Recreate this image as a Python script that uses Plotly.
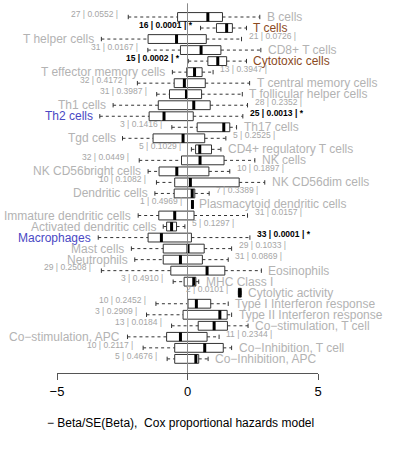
import plotly.graph_objects as go

names = ["B cells", "T cells", "T helper cells", "CD8+ T cells", "Cytotoxic cells",
         "T effector memory cells", "T central memory cells", "T follicular helper cells",
         "Th1 cells", "Th2 cells", "Th17 cells", "Tgd cells", "CD4+ regulatory T cells",
         "NK cells", "NK CD56bright cells", "NK CD56dim cells", "Dendritic cells",
         "Plasmacytoid dendritic cells", "Immature dendritic cells", "Activated dendritic cells",
         "Macrophages", "Mast cells", "Neutrophils", "Eosinophils", "MHC Class I",
         "Cytolytic activity", "Type I Interferon response", "Type II Interferon response",
         "Co\u2212stimulation, T cell", "Co\u2212stimulation, APC", "Co\u2212Inhibition, T cell",
         "Co\u2212Inhibition, APC"]

lower = [-2.27, 0.50, -3.30, -1.52, 0.03, -0.58, -1.92, -1.18, -2.85, -3.36, -0.60, -2.49, 0.15,
         -1.85, -1.51, -1.19, -1.25, 0.19, -1.89, -0.93, -3.42, -2.15, -2.02, -3.30, -0.55,
         1.95, -1.21, -1.57, -0.61, -2.30, -1.70, -0.78]
q1 = [-0.38, 1.11, -1.51, -0.27, 0.78, -0.03, -0.51, -0.69, -1.12, -1.47, 0.37, -1.32, 0.31,
      -0.23, -1.09, -0.49, -0.51, 0.19, -1.10, -0.80, -1.51, -0.93, -0.93, -0.64, -0.13,
      1.95, 0.02, -0.17, 0.41, -0.80, -0.49, -0.49]
median = [0.78, 1.50, -0.42, 0.52, 1.16, 0.27, -0.12, -0.04, 0.24, -0.90, 1.39, -0.17, 0.47,
          0.48, -0.41, 0.11, 0.18, 0.19, -0.49, -0.61, -1.00, 0.02, -0.27, 0.75, 0.24,
          2.00, 0.34, 1.24, 1.02, -0.27, 0.66, 0.32]
q3 = [1.34, 1.72, 0.72, 1.28, 1.50, 0.56, 0.68, 0.54, 0.87, 0.22, 1.62, 0.66, 0.92,
      1.40, 0.82, 1.98, 0.28, 0.19, 0.25, -0.42, 0.15, 0.64, 0.57, 1.43, 0.32,
      2.06, 0.89, 1.52, 1.53, 0.75, 1.37, 0.43]
upper = [2.77, 2.26, 2.07, 2.81, 2.26, 0.98, 2.38, 2.10, 2.30, 2.12, 1.88, 1.47, 1.28,
         2.58, 1.62, 2.96, 0.83, 0.19, 2.30, -0.10, 2.39, 1.69, 1.56, 2.83, 0.43,
         2.06, 1.56, 1.69, 2.32, 1.21, 1.69, 0.79]

counts = [27, 16, 21, 31, 15, 13, 32, 31, 28, 25, 3, 5, 5, 32, 10, 10, 7, 1, 31, 5, 33, 29,
          31, 29, 3, 2, 10, 3, 13, 11, 10, 5]
pvals = ["0.0552", "0.0001", "0.0726", "0.0167", "0.0002", "0.3947", "0.4172", "0.3987",
         "0.2352", "0.0013", "0.1416", "0.2525", "0.1029", "0.0449", "0.1897", "0.1082",
         "0.3389", "0.4969", "0.0157", "0.1297", "0.0001", "0.1033", "0.0869", "0.2508",
         "0.4910", "0.0101", "0.2452", "0.2909", "0.0184", "0.2344", "0.2117", "0.4676"]
name_side = ["R", "R", "L", "R", "R", "L", "R", "R", "L", "L", "R", "L", "R", "R", "L", "R",
             "L", "R", "L", "L", "L", "L", "L", "R", "R", "R", "R", "R", "R", "L", "R", "R"]
name_colors = {"T cells": "#8B4A1E", "Cytotoxic cells": "#8B4A1E",
               "Th2 cells": "#4A48C4", "Macrophages": "#4A48C4"}

xticks = [-5, 0, 5]
xlabel = "\u2212 Beta/SE(Beta),\u00a0 Cox proportional hazards model"

rows = list(range(1, len(names) + 1))
FONT = "Liberation Sans, Arial, sans-serif"
BOXH = 0.4
STAP = 0.2

wx, wy, sx, sy, bx, by, mx, my = [], [], [], [], [], [], [], []
for r, lo, a, m, b, hi in zip(rows, lower, q1, median, q3, upper):
    wx += [lo, a, None, b, hi, None]
    wy += [r, r, None, r, r, None]
    sx += [lo, lo, None, hi, hi, None]
    sy += [r - STAP, r + STAP, None, r - STAP, r + STAP, None]
    bx += [a, b, b, a, a, None]
    by += [r - BOXH, r - BOXH, r + BOXH, r + BOXH, r - BOXH, None]
    mx += [m, m, None]
    my += [r - BOXH, r + BOXH, None]

fig = go.Figure()
fig.add_trace(go.Scatter(x=wx, y=wy, mode="lines", line=dict(color="#333", width=1, dash="3px,3px"),
                         hoverinfo="skip", showlegend=False))
fig.add_trace(go.Scatter(x=sx, y=sy, mode="lines", line=dict(color="#333", width=1),
                         hoverinfo="skip", showlegend=False))
fig.add_trace(go.Scatter(x=bx, y=by, mode="lines", line=dict(color="#333", width=1),
                         hoverinfo="skip", showlegend=False))
fig.add_trace(go.Scatter(x=mx, y=my, mode="lines", line=dict(color="#000", width=3),
                         hoverinfo="skip", showlegend=False))

ann = []
for r, nm, side, lo, hi, n, p in zip(rows, names, name_side, lower, upper, counts, pvals):
    sig = float(p) < 0.005
    txt = f"{n} | {p} |" + (" *" if sig else "")
    if sig:
        afont = dict(family=FONT, size=8.5, color="#000")
        txt = "<b>" + txt + "</b>"
    else:
        afont = dict(family=FONT, size=8.5, color="#a6a6a6")
    nfont = dict(family=FONT, size=12, color=name_colors.get(nm, "#b3b3b3"))
    if side == "L":
        ann.append(dict(x=lo, y=r, xref="x", yref="y", text=nm, showarrow=False,
                        xanchor="right", yanchor="middle", xshift=-5, font=nfont))
        ann.append(dict(x=hi, y=r - 0.3, xref="x", yref="y", text=txt, showarrow=False,
                        xanchor="left", yanchor="middle", xshift=5, font=afont))
    else:
        ann.append(dict(x=hi, y=r, xref="x", yref="y", text=nm, showarrow=False,
                        xanchor="left", yanchor="middle", xshift=5, font=nfont))
        ann.append(dict(x=lo, y=r - 0.3, xref="x", yref="y", text=txt, showarrow=False,
                        xanchor="right", yanchor="middle", xshift=-6 if sig else -8, font=afont))

ann.append(dict(x=0.475, y=-0.134, xref="paper", yref="paper", text=xlabel, showarrow=False,
                xanchor="center", yanchor="middle", font=dict(family=FONT, size=12, color="#000")))

fig.update_layout(
    width=398, height=459,
    margin=dict(l=57, r=80, t=0, b=86),
    paper_bgcolor="white", plot_bgcolor="white",
    annotations=ann,
    shapes=[dict(type="line", xref="x", yref="y", x0=0, x1=0, y0=-0.24, y1=33.28,
                 line=dict(color="#8a8a8a", width=1), layer="above")],
    xaxis=dict(range=[-5, 5], tickvals=xticks, showline=True, linecolor="#555", linewidth=1,
               ticks="outside", ticklen=6, tickcolor="#555", showgrid=False, zeroline=False,
               tickfont=dict(family=FONT, size=13, color="#000")),
    yaxis=dict(range=[33.28, -0.541], visible=False, showgrid=False, zeroline=False),
)

fig.write_html("out.html", config={"displayModeBar": False},
               post_script="document.body.style.margin='0';")
